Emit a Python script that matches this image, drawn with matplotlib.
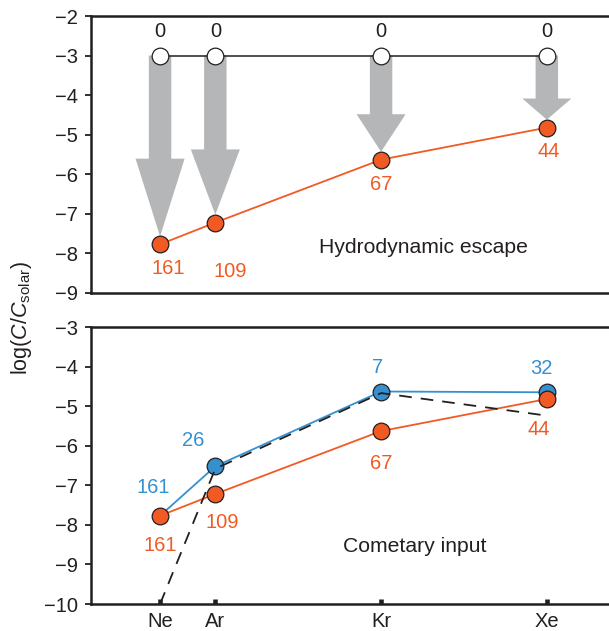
import numpy as np
import matplotlib
matplotlib.use("Agg")
import matplotlib.pyplot as plt

plt.rcParams['font.family'] = ['Liberation Sans', 'DejaVu Sans']
plt.rcParams['mathtext.fontset'] = 'custom'
plt.rcParams['mathtext.rm'] = 'Liberation Sans'
plt.rcParams['mathtext.it'] = 'Liberation Sans:italic'

# noble gases, spread along x by mass number
gases = ['Ne', 'Ar', 'Kr', 'Xe']
mass = [20, 36, 84, 132]

# log(C/Csolar) before escape (solar) and after hydrodynamic escape
initial = [-3.0, -3.0, -3.0, -3.0]
initialLabels = ['0', '0', '0', '0']
escaped = [-7.77, -7.22, -5.63, -4.82]
escapedLabels = ['161', '109', '67', '44']

# escape residue plus the cometary contribution
cometary = [-7.77, -6.52, -4.63, -4.65]
cometaryLabels = ['161', '26', '7', '32']
# comet composition itself (dashed)
comet = [-10.0, -6.58, -4.67, -5.24]

orange = '#f15a22'
blue = '#3590d0'
grey = '#b5b6b8'
ink = '#231f20'

# label offsets in pixels (dx, dy)
offInit = [(0, 24)] * 4
offEscTop = [(8, -24), (15, -49), (0, -25), (2, -24)]
offEscBot = [(0, -30), (7, -29), (0, -32), (-8, -30)]
offCom = [(-7, 28), (-22, 26), (-4, 24), (-5, 24)]
# head length as fraction of arrow length
headFrac = [0.43, 0.41, 0.39, 0.33]


def styleAxis(ax, ylim):
    ax.set_xlim(0, 150)
    ax.set_ylim(ylim)
    ax.set_yticks(np.arange(ylim[0], ylim[1] + 1))
    ax.spines['right'].set_visible(False)
    for s in ['left', 'top', 'bottom']:
        ax.spines[s].set_linewidth(1.8)
        ax.spines[s].set_color(ink)
    ax.tick_params(axis='y', direction='out', length=4.5, width=1.3,
                   labelsize=14.5, pad=5, colors=ink)


def labelPoints(ax, xs, ys, labels, offsets, color):
    for x, y, t, off in zip(xs, ys, labels, offsets):
        ax.annotate(t, (x, y), xytext=off, textcoords='offset pixels',
                    ha='center', va='center', fontsize=14.5, color=color)


def dots(ax, xs, ys, face, z):
    ax.plot(xs, ys, 'o', ms=12, mfc=face, mec=ink, mew=0.9,
            zorder=z, clip_on=False)


fig = plt.figure(figsize=(6.09, 6.31), dpi=100)
left = 91 / 609.
axTop = fig.add_axes([left, 1 - 293 / 631., 1 - left, 277 / 631.])
axBot = fig.add_axes([left, 1 - 604 / 631., 1 - left, 277 / 631.])

# top: hydrodynamic escape
styleAxis(axTop, (-9, -2))
axTop.set_xticks([])
for x, y0, y1, f in zip(mass, initial, escaped, headFrac):
    # tip stops at the top edge of the marker
    dy = (y1 + 0.2) - y0
    axTop.arrow(x, y0, 0, dy, width=6.5, head_width=14.2,
                head_length=f * abs(dy), length_includes_head=True,
                fc=grey, ec='none', zorder=1)
axTop.plot(mass, initial, '-', color=ink, lw=1.1, zorder=2)
axTop.plot(mass, escaped, '-', color=orange, lw=1.3, zorder=2)
dots(axTop, mass, initial, 'white', 3)
dots(axTop, mass, escaped, orange, 3)
labelPoints(axTop, mass, initial, initialLabels, offInit, ink)
labelPoints(axTop, mass, escaped, escapedLabels, offEscTop, orange)
axTop.text(96.3, -7.86, 'Hydrodynamic escape', ha='center', va='center',
           fontsize=15.2, color=ink)

# bottom: cometary input
styleAxis(axBot, (-10, -3))
axBot.set_xticks(mass)
axBot.set_xticklabels(gases)
axBot.tick_params(axis='x', direction='in', length=3.8, width=3.3,
                  labelsize=14.5, pad=6, colors=ink)
axBot.plot(mass, cometary, '-', color=blue, lw=1.3, zorder=2)
axBot.plot(mass, escaped, '-', color=orange, lw=1.3, zorder=2)
dots(axBot, mass[1:], cometary[1:], blue, 3)
dots(axBot, mass, escaped, orange, 4)
axBot.plot(mass, comet, color=ink, lw=1.3, ls=(0, (7, 5)), zorder=5)
labelPoints(axBot, mass, cometary, cometaryLabels, offCom, blue)
labelPoints(axBot, mass, escaped, escapedLabels, offEscBot, orange)
axBot.text(93.8, -8.55, 'Cometary input', ha='center', va='center',
           fontsize=15.2, color=ink)

fig.text(21 / 609., 1 - 318 / 631., r'log($C$/$C_{\mathrm{solar}}$)',
         rotation=90, ha='center', va='center', fontsize=15.5,
         color=ink)

fig.savefig('out.png', dpi=100)
